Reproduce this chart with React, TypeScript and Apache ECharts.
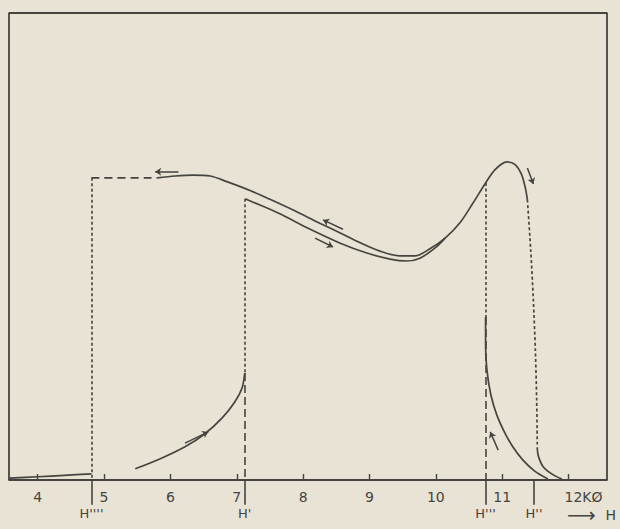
import React, { useEffect, useRef } from "react";
import * as echarts from "echarts";

// Axis extents (field in kOe, y in arbitrary units)
const XMIN = 3.567;
const XMAX = 12.58;
const YMIN = 0;
const YMAX = 100;

const xTicks = [4, 5, 6, 7, 8, 9, 10, 11, 12];
const hMarkers = [4.81, 7.12, 10.75, 11.48];
const hNames = ["H''''", "H'", "H'''", "H''"];

// Curves
const baseLeft = [[3.57, 0.4], [4.0, 0.7], [4.4, 1.0], [4.81, 1.3]];
const plateauDashed = [[4.81, 64.7], [5.8, 64.7]];
const upperSolid = [
  [5.8, 64.7], [6.07, 65.1], [6.34, 65.3], [6.6, 65.1], [6.85, 63.9], [7.2, 62.0],
  [7.5, 60.1], [7.85, 57.8], [8.25, 55.0], [8.56, 52.9], [8.86, 50.8], [9.16, 49.0],
  [9.46, 48.0], [9.69, 48.0], [9.91, 49.5], [10.14, 51.8], [10.37, 55.2], [10.56, 59.3],
  [10.75, 63.6], [10.89, 66.4], [11.07, 68.1], [11.19, 67.6], [11.29, 65.5], [11.35, 62.5],
  [11.38, 60.0],
];
const upperDotted = [[11.38, 60.0], [11.43, 49.3], [11.47, 38.5], [11.5, 27.8], [11.52, 17.1], [11.53, 6.4]];
const upperTail = [[11.53, 6.4], [11.55, 4.9], [11.62, 2.8], [11.77, 1.1], [11.9, 0.2]];
const lowerBranch = [
  [7.13, 60.2], [7.23, 59.6], [7.65, 57.0], [8.06, 54.0], [8.56, 50.7], [8.96, 48.6],
  [9.31, 47.3], [9.56, 46.9], [9.76, 47.5], [9.99, 49.7], [10.14, 51.8],
];
const riseLeft = [[5.47, 2.4], [5.84, 4.5], [6.22, 7.1], [6.52, 9.9], [6.78, 13.3], [6.97, 16.7], [7.08, 19.7], [7.12, 22.9]];
const dropRight = [
  [10.75, 34.9], [10.75, 28.9], [10.77, 23.6], [10.83, 18.2], [10.92, 13.9], [11.04, 10.1],
  [11.16, 7.1], [11.31, 4.3], [11.49, 1.9], [11.69, 0.2],
];

// Guides
const dottedGuides = [
  [[4.81, 64.7], [4.81, 0]],
  [[7.12, 60.2], [7.12, 22.9]],
  [[10.75, 63.6], [10.75, 34.9]],
];
const dashedGuides = [
  [[7.12, 22.9], [7.12, 0]],
  [[10.75, 34.9], [10.75, 0]],
];
const belowTickDepth = -5.3;

// Direction arrows: [from, to]
const arrows = [
  [[6.12, 66.0], [5.77, 66.0]],
  [[8.6, 53.7], [8.3, 55.7]],
  [[8.18, 51.8], [8.45, 49.9]],
  [[6.22, 7.9], [6.57, 10.3]],
  [[11.38, 66.8], [11.47, 63.4]],
  [[10.94, 6.4], [10.82, 10.3]],
];

const INK = "#45443f";
const BG = "#e8e3d4";
const FONT = "DejaVu Sans";

const labelValues = [...xTicks, ...hMarkers].sort((a, b) => a - b);

export default function App() {
  const ref = useRef<HTMLDivElement>(null);
  useEffect(() => {
    if (!ref.current) return;
    const chart = echarts.init(ref.current, null, { renderer: "svg" });
    const curve = (data: number[][], type: any = "solid", width = 1.7) => ({
      type: "line",
      data,
      showSymbol: false,
      symbol: "none",
      smooth: 0.3,
      clip: false,
      lineStyle: { color: INK, width, type },
      silent: true,
    });
    const option: any = {
      animation: false,
      backgroundColor: BG,
      grid: { left: 9, right: 13, top: 13, bottom: 49, outerBoundsMode: "none", containLabel: false },
      xAxis: {
        type: "value",
        min: XMIN,
        max: XMAX,
        axisLine: { show: true, onZero: false, lineStyle: { color: INK, width: 1.8 } },
        axisTick: { show: true, inside: true, length: 6, customValues: xTicks, lineStyle: { color: INK, width: 1.4 } },
        splitLine: { show: false },
        axisLabel: {
          customValues: labelValues,
          margin: 10,
          color: INK,
          fontFamily: FONT,
          fontSize: 14,
          hideOverlap: false,
          formatter: (v: number) => {
            const i = hMarkers.findIndex((h) => Math.abs(h - v) < 1e-6);
            if (i >= 0) return "{h|" + hNames[i] + "}";
            if (Math.abs(v - 12) < 1e-6) return "{k|12KØ}";
            return String(v);
          },
          rich: {
            k: { padding: [0, 0, 0, 30], color: INK, fontFamily: FONT, fontSize: 14 },
            h: { padding: [17, 0, 0, 0], color: INK, fontFamily: FONT, fontSize: 13 },
          },
        },
        name: "{a|⟶} {h|H}",
        nameLocation: "end",
        nameGap: 9,
        nameTextStyle: {
          align: "right",
          verticalAlign: "top",
          padding: [25, 0, 0, 0],
          color: INK,
          fontFamily: FONT,
          rich: {
            a: { fontSize: 20, color: INK, fontFamily: FONT },
            h: { fontSize: 14, color: INK, fontFamily: FONT, padding: [0, 0, 0, 6] },
          },
        },
      },
      yAxis: { type: "value", min: YMIN, max: YMAX, show: false },
      series: [
        // frame (top, left, right edges)
        {
          type: "line",
          data: [[XMIN, 0], [XMIN, YMAX], [XMAX, YMAX], [XMAX, 0]],
          showSymbol: false,
          symbol: "none",
          clip: false,
          lineStyle: { color: INK, width: 1.8 },
          silent: true,
        },
        curve(baseLeft),
        curve(plateauDashed, [8, 5]),
        curve(upperSolid),
        curve(upperDotted, [3, 2.5]),
        curve(upperTail),
        curve(lowerBranch),
        curve(riseLeft),
        curve(dropRight),
        {
          type: "lines",
          coordinateSystem: "cartesian2d",
          clip: false,
          data: dottedGuides.map((c) => ({ coords: c })),
          lineStyle: { color: INK, width: 1.6, type: [3, 2.5], opacity: 1 },
          silent: true,
        },
        {
          type: "lines",
          coordinateSystem: "cartesian2d",
          clip: false,
          data: dashedGuides.map((c) => ({ coords: c })),
          lineStyle: { color: INK, width: 1.6, type: [8, 4], opacity: 1 },
          silent: true,
        },
        {
          type: "lines",
          coordinateSystem: "cartesian2d",
          clip: false,
          data: hMarkers.map((h) => ({ coords: [[h, 0], [h, belowTickDepth]] })),
          lineStyle: { color: INK, width: 1.6, opacity: 1 },
          silent: true,
        },
        {
          type: "lines",
          coordinateSystem: "cartesian2d",
          clip: false,
          data: arrows.map((c) => ({ coords: c })),
          symbol: ["none", "arrow"],
          symbolSize: 6,
          lineStyle: { color: INK, width: 1.5, opacity: 1 },
          silent: true,
        },
      ],
    };
    chart.setOption(option);
    return () => chart.dispose();
  }, []);
  return (
    <div
      ref={ref}
      style={{ position: "fixed", left: 0, top: 0, width: 620, height: 529, background: BG }}
    />
  );
}
